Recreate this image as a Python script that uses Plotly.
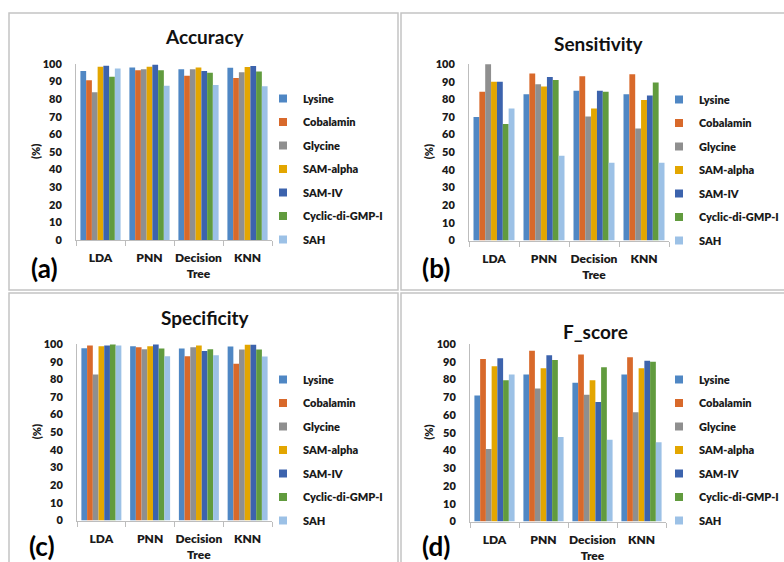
import plotly.graph_objects as go

W, H = 784, 562

models = ["LDA", "PNN", "Decision<br>Tree", "KNN"]
series = ["Lysine", "Cobalamin", "Glycine", "SAM-alpha", "SAM-IV", "Cyclic-di-GMP-I", "SAH"]
colors = ["#4F87C4", "#D8692B", "#8F8F8F", "#E3A600", "#3C63AD", "#619B3E", "#9CC1E6"]

# values per series, in model order LDA, PNN, Decision Tree, KNN
accuracy = [
    [96.0, 98.0, 97.0, 97.8],
    [90.8, 96.5, 93.3, 92.0],
    [84.0, 97.0, 97.0, 95.3],
    [98.5, 98.5, 98.0, 98.3],
    [99.0, 99.6, 96.0, 98.8],
    [92.7, 96.5, 95.0, 95.8],
    [97.4, 87.6, 88.1, 87.4],
]
sensitivity = [
    [70.0, 82.8, 84.8, 82.8],
    [84.3, 94.6, 93.0, 94.2],
    [99.8, 88.5, 70.3, 63.5],
    [90.0, 87.3, 74.8, 79.6],
    [90.0, 92.6, 84.8, 82.2],
    [66.0, 91.0, 84.3, 89.5],
    [74.8, 48.0, 44.0, 44.0],
]
specificity = [
    [97.6, 98.7, 97.5, 98.6],
    [99.2, 98.1, 93.0, 88.8],
    [82.7, 97.0, 98.1, 96.9],
    [98.7, 98.7, 99.2, 99.6],
    [99.2, 99.7, 96.1, 99.6],
    [99.7, 97.5, 97.0, 96.9],
    [99.2, 93.0, 93.6, 92.9],
]
f_score = [
    [71.0, 82.8, 78.2, 82.8],
    [91.5, 96.2, 94.1, 92.5],
    [40.9, 75.0, 71.4, 61.6],
    [87.4, 86.4, 79.6, 86.4],
    [92.0, 93.6, 67.3, 90.6],
    [79.6, 91.0, 86.9, 90.0],
    [82.8, 47.6, 46.1, 44.6],
]
y_ticks = [0, 10, 20, 30, 40, 50, 60, 70, 80, 90, 100]

FONT = "Lato"
TXT = "#1A1A1A"


def px(x):
    return x / W


def py(y):
    return 1 - y / H


# panel layout: (title, data, label, plot x0, x1, y_top, y_bottom, title pos, label pos, legend pos)
panels = [
    ("Accuracy", accuracy, "(a)", 76, 272, 64, 240, (205, 37), (44, 268), (263, 84)),
    ("Sensitivity", sensitivity, "(b)", 469, 669, 64, 240.5, (599, 44), (436, 268), (659, 85)),
    ("Specificity", specificity, "(c)", 77, 272, 344, 520.5, (205, 317), (42, 546), (263, 365)),
    ("F_score", f_score, "(d)", 470, 666, 344, 521.5, (595, 331), (436, 546), (659, 365)),
]

fig = go.Figure()
annotations = []
layout = {}

for i, (title, data, lab, x0, x1, yt, yb, tpos, lpos, legpos) in enumerate(panels):
    n = "" if i == 0 else str(i + 1)
    xa, ya = "x" + n, "y" + n
    leg = "legend" + n
    for s, c, vals in zip(series, colors, data):
        fig.add_trace(go.Bar(
            x=models, y=vals, name=s, marker=dict(color=c, line=dict(width=0)),
            xaxis=xa, yaxis=ya, showlegend=False, hoverinfo="x+y+name",
        ))
    for s, c in zip(series, colors):
        fig.add_trace(go.Scatter(
            x=[None], y=[None], mode="markers", name=s,
            marker=dict(symbol="square", size=8, color=c),
            xaxis=xa, yaxis=ya, legend=leg, legendgroup=lab + s, showlegend=True,
        ))
    layout["xaxis" + n] = dict(
        domain=[px(x0), px(x1)], anchor=ya, type="category", categoryarray=models,
        showline=True, linecolor="#BDBDBD", linewidth=1, ticks="outside",
        tickson="boundaries", ticklen=5, tickcolor="#BDBDBD", showgrid=False,
        tickangle=0, automargin=False, ticklabelstandoff=7,
        tickfont=dict(family=FONT, size=12, color=TXT, weight=800),
        fixedrange=True,
    )
    layout["yaxis" + n] = dict(
        domain=[py(yb), py(yt)], anchor=xa, range=[0, 100], tickvals=y_ticks,
        showline=True, linecolor="#BDBDBD", linewidth=1, ticks="", showgrid=False,
        zeroline=False, automargin=False, ticklabelstandoff=11,
        tickfont=dict(family=FONT, size=11, color=TXT, weight=800),
        fixedrange=True,
    )
    layout[leg] = dict(
        x=px(legpos[0]), y=py(legpos[1]), xanchor="left", yanchor="top",
        font=dict(family=FONT, size=11, color=TXT, weight=800),
        tracegroupgap=4.5, traceorder="grouped", bgcolor="rgba(0,0,0,0)",
        itemclick=False, itemdoubleclick=False,
    )
    annotations.append(dict(
        text=title, x=px(tpos[0]), y=py(tpos[1]), xref="paper", yref="paper",
        showarrow=False, xanchor="center", yanchor="middle",
        font=dict(family=FONT, size=19, color="#111111", weight="bold"),
    ))
    annotations.append(dict(
        text=lab, x=px(lpos[0]), y=py(lpos[1]), xref="paper", yref="paper",
        showarrow=False, xanchor="center", yanchor="middle",
        font=dict(family=FONT, size=26, color="#000000", weight="bold"),
    ))
    annotations.append(dict(
        text="(%)", x=px(x0 - 41), y=py((yt + yb) / 2), xref="paper", yref="paper",
        showarrow=False, xanchor="center", yanchor="middle", textangle=-90,
        font=dict(family=FONT, size=11, color=TXT, weight=800),
    ))

# panel frames
frames = [(9, 13, 398, 290), (401, 13, 790, 290), (9, 293, 398, 570), (401, 293, 790, 570)]
shapes = [
    dict(type="rect", xref="paper", yref="paper", x0=px(a), x1=px(c), y0=py(d), y1=py(b),
         line=dict(color="#C4C4C4", width=1.5), layer="below")
    for a, b, c, d in frames
]

fig.update_layout(
    **layout,
    width=W, height=H, margin=dict(l=0, r=0, t=0, b=0, pad=0, autoexpand=False),
    paper_bgcolor="white", plot_bgcolor="white",
    barmode="group", bargap=0.18, bargroupgap=0,
    annotations=annotations, shapes=shapes,
    font=dict(family=FONT, color=TXT),
)

fig.write_html(
    "out.html",
    config={"displayModeBar": False},
    post_script="document.body.style.margin='0';document.body.style.overflow='hidden';",
)
